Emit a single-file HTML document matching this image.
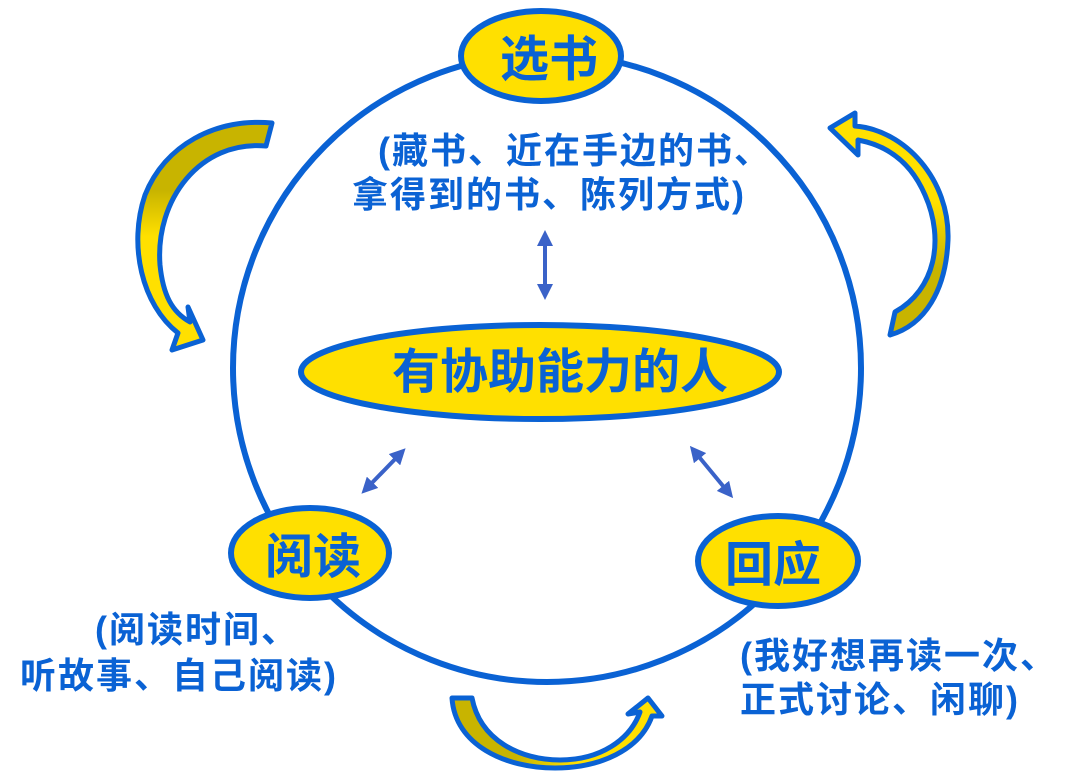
<!DOCTYPE html>
<html><head><meta charset="utf-8"><style>
body{margin:0;background:#fff;width:1080px;height:772px;overflow:hidden}
svg{display:block}
text{font-family:"Liberation Sans","Noto Sans CJK SC",sans-serif;font-weight:bold}
</style></head><body>
<svg width="1080" height="772" viewBox="0 0 1080 772">
<defs>
<linearGradient id="gl" x1="0" y1="0" x2="0" y2="1"><stop offset="0.3" stop-color="#c8b400"/><stop offset="0.5" stop-color="#ffe000"/></linearGradient>
<linearGradient id="gr" x1="0" y1="1" x2="0" y2="0"><stop offset="0.3" stop-color="#c8b400"/><stop offset="0.6" stop-color="#ffe000"/></linearGradient>
<linearGradient id="gb" x1="0" y1="0" x2="1" y2="0"><stop offset="0.3" stop-color="#c8b400"/><stop offset="0.6" stop-color="#ffe000"/></linearGradient>
<marker id="ah" viewBox="0 0 10 10" refX="5" refY="5" markerWidth="4" markerHeight="4" orient="auto-start-reverse"><path d="M0,0L10,5L0,10Z" fill="#3a62c8"/></marker>
</defs>
<circle cx="547" cy="368" r="314" fill="none" stroke="#0a62d4" stroke-width="6"/>
<path d="M272,123 L266,146 C200,140 155,200 160,265 C163,295 172,312 190,322 L188,307 L203,340 L172,350 L178,333 C142,305 128,245 145,195 C165,145 215,118 272,123 Z" fill="url(#gl)" stroke="#0a62d4" stroke-width="5" stroke-linejoin="round"/>
<path d="M890,335 L895,312 C935,290 945,240 925,195 C910,160 885,145 858,140 L858,155 L830,128 L855,113 L855,126 C905,130 950,180 948,240 C946,290 925,325 890,335 Z" fill="url(#gr)" stroke="#0a62d4" stroke-width="5" stroke-linejoin="round"/>
<path d="M452,698 L472,698 C480,740 520,760 560,760 C600,760 630,740 640,712 L628,714 L648,698 L662,716 L652,716 C640,750 600,768 555,768 C505,768 455,745 452,698 Z" fill="url(#gb)" stroke="#0a62d4" stroke-width="5" stroke-linejoin="round"/>
<g stroke="#3a62c8" stroke-width="4" marker-start="url(#ah)" marker-end="url(#ah)">
<line x1="545" y1="238" x2="545" y2="292"/>
<line x1="400" y1="454" x2="367" y2="488"/>
<line x1="695" y1="452" x2="728" y2="492"/>
</g>
<ellipse cx="541" cy="56" rx="80" ry="45" fill="#ffe000" stroke="#0a62d4" stroke-width="6"/>
<ellipse cx="310" cy="553" rx="79" ry="45" fill="#ffe000" stroke="#0a62d4" stroke-width="6"/>
<ellipse cx="778" cy="561" rx="80" ry="45" fill="#ffe000" stroke="#0a62d4" stroke-width="6"/>
<ellipse cx="540" cy="372" rx="239" ry="47" fill="#ffe000" stroke="#0a62d4" stroke-width="6"/>
<g fill="#0a62d4">
<text x="500" y="76" font-size="49">选书</text>
<text x="265" y="573" font-size="48">阅读</text>
<text x="725" y="581" font-size="48">回应</text>
<text x="392" y="388" font-size="48">有协助能力的人</text>
<g font-size="36" letter-spacing="2">
<text x="378" y="163">(藏书、近在手边的书、</text>
<text x="352" y="207">拿得到的书、陈列方式)</text>
<text x="95" y="642">(阅读时间、</text>
<text x="20" y="688">听故事、自己阅读)</text>
<text x="740" y="668">(我好想再读一次、</text>
<text x="740" y="712">正式讨论、闲聊)</text>
</g>
</g>
</svg>
</body></html>
